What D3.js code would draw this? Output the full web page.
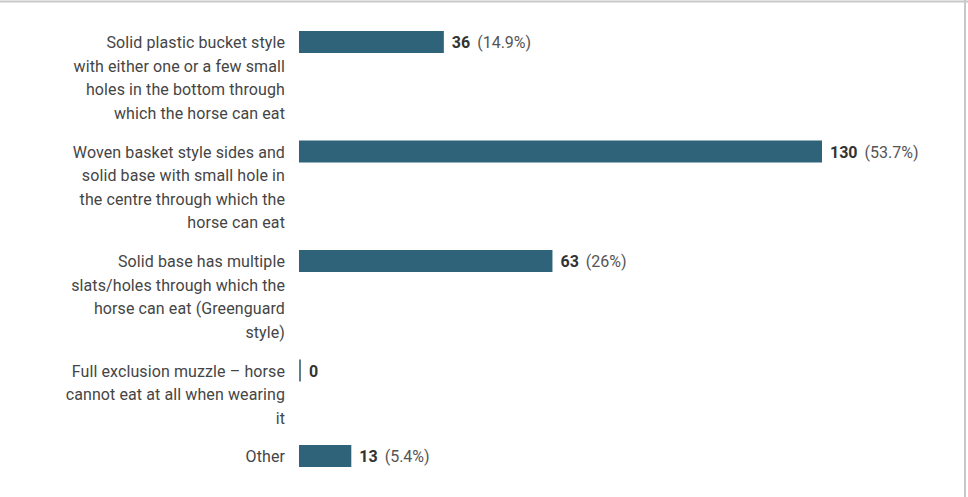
<!DOCTYPE html>
<html>
<head>
<meta charset="utf-8">
<script src="https://cdn.jsdelivr.net/npm/d3@7"></script>
<style>
  html, body { margin: 0; padding: 0; background: #fff; }
  svg { display: block; font-family: Roboto, "Noto Sans", sans-serif; }
</style>
</head>
<body>
<svg id="chart" width="968" height="497"></svg>
<script>
// Answer options (line breaks as shown in the labels)
const categories = [
  "Solid plastic bucket style\nwith either one or a few small\nholes in the bottom through\nwhich the horse can eat",
  "Woven basket style sides and\nsolid base with small hole in\nthe centre through which the\nhorse can eat",
  "Solid base has multiple\nslats/holes through which the\nhorse can eat (Greenguard\nstyle)",
  "Full exclusion muzzle \u2013 horse\ncannot eat at all when wearing\nit",
  "Other"
];
// Number of respondents choosing each option
const counts = [36, 130, 63, 0, 13];

const svg = d3.select("#chart");
const W = 968, H = 497;

// Card frame: top and right edges
svg.append("line").attr("x1", 0).attr("x2", W).attr("y1", 1.5).attr("y2", 1.5)
  .attr("stroke", "#c8c8c8").attr("stroke-width", 2);
svg.append("line").attr("x1", 965).attr("x2", 965).attr("y1", 0).attr("y2", H)
  .attr("stroke", "#c8c8c8").attr("stroke-width", 2);

const total = d3.sum(counts);
const pct = d3.format(".1~f");

const lineH = 24, rowGap = 13.5, barH = 22, firstRowTop = 31;
const rows = categories.map((c, i) => ({ lines: c.split("\n"), value: counts[i] }));
let acc = 0;
rows.forEach(r => { r.offset = acc; acc += r.lines.length * lineH + rowGap; });

// Vertical position scale: cumulative layout units -> pixels
const y = d3.scaleLinear().domain([0, 1]).range([firstRowTop, firstRowTop + 1]);
// Horizontal value scale
const x = d3.scaleLinear().domain([0, 130]).range([299, 822]);

const g = svg.append("g");
const row = g.selectAll("g.row").data(rows).join("g").attr("class", "row")
  .attr("transform", d => `translate(0,${y(d.offset)})`);

row.append("rect")
  .attr("x", x(0))
  .attr("y", 0)
  .attr("width", d => Math.max(x(d.value) - x(0), 2))
  .attr("height", barH)
  .attr("fill", d => d.value === 0 ? "#5d7f8f" : "#2e6379");

// Category labels, right aligned
row.append("text")
  .attr("text-anchor", "end")
  .attr("font-size", 16)
  .attr("letter-spacing", 0.1)
  .attr("fill", "#454545")
  .selectAll("tspan").data(d => d.lines).join("tspan")
  .attr("x", 285)
  .attr("y", (d, i) => 17 + i * 23.6)
  .text(d => d);

// Value labels
const vl = row.append("text")
  .attr("x", d => Math.max(x(d.value), x(0) + 2) + 8)
  .attr("y", 17)
  .attr("font-size", 16);
vl.append("tspan").attr("font-weight", "bold").attr("fill", "#333")
  .text(d => d.value);
vl.append("tspan").attr("fill", "#555").attr("dx", 7)
  .text(d => d.value === 0 ? "" : `(${pct(d.value / total * 100)}%)`);
</script>
</body>
</html>
